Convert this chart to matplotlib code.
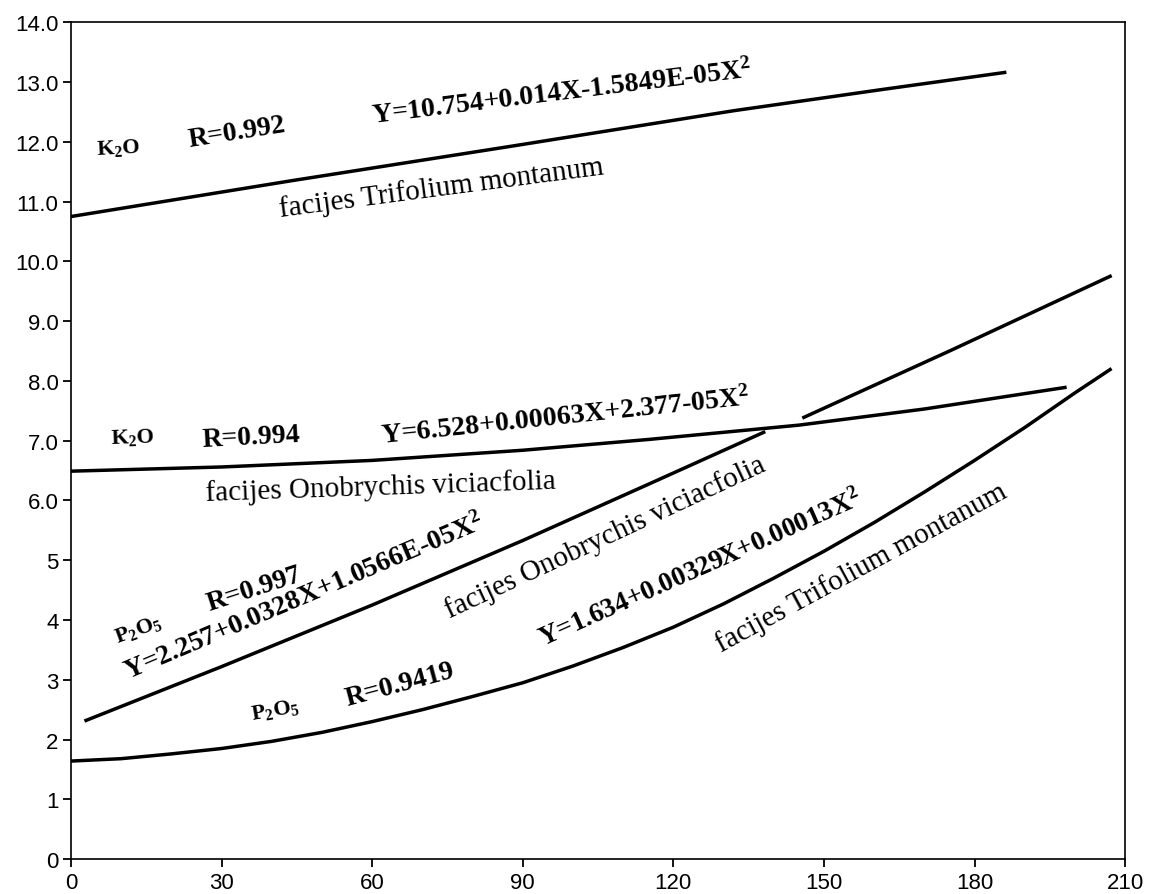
import numpy as np
import matplotlib
matplotlib.use("Agg")
import matplotlib.pyplot as plt

plt.rcParams["mathtext.default"] = "regular"

# K2O, facijes Trifolium montanum
k2o_tm_x = [0, 44, 88, 132, 162, 186]
k2o_tm_y = [10.75, 11.35, 11.93, 12.52, 12.88, 13.16]

# K2O, facijes Onobrychis viciaefolia
k2o_ov_x = [0, 30, 60, 90, 115, 145, 170, 198]
k2o_ov_y = [6.49, 6.56, 6.67, 6.84, 7.02, 7.26, 7.53, 7.89]

# P2O5, facijes Onobrychis viciaefolia (line broken where it meets the K2O curve)
p_ov_x1 = [3, 30, 60, 90, 115, 138]
p_ov_y1 = [2.32, 3.22, 4.25, 5.33, 6.27, 7.14]
p_ov_x2 = [146, 175, 207]
p_ov_y2 = [7.39, 8.5, 9.75]

# P2O5, facijes Trifolium montanum
p_tm_x = [0, 10, 20, 30, 40, 50, 60, 70, 80, 90, 100, 110, 120, 130, 140,
          150, 160, 170, 180, 190, 200, 207]
p_tm_y = [1.64, 1.68, 1.76, 1.85, 1.97, 2.12, 2.3, 2.5, 2.72, 2.95, 3.23, 3.54,
          3.88, 4.27, 4.7, 5.15, 5.63, 6.14, 6.67, 7.22, 7.8, 8.19]

xticks = [0, 30, 60, 90, 120, 150, 180, 210]
yticks = list(range(0, 15))
ytick_labels = ["0", "1", "2", "3", "4", "5"] + [f"{v:.1f}" for v in range(6, 15)]

# text labels: (x, y, text, rotation, size, bold)
labels = [
    (9.4, 11.91, "K$_2$O", 3, 16, True),
    (33.1, 12.16, "R=0.992", 9, 20, True),
    (97.8, 12.84, "Y=10.754+0.014X-1.5849E-05X$^2$", 7, 20, True),
    (73.7, 11.24, "facijes Trifolium montanum", 7.5, 21, False),
    (12.2, 7.07, "K$_2$O", 2, 16, True),
    (35.9, 7.07, "R=0.994", 3, 20, True),
    (98.4, 7.41, "Y=6.528+0.00063X+2.377-05X$^2$", 6, 20, True),
    (61.6, 6.24, "facijes Onobrychis viciacfolia", 2, 21, False),
    (13.5, 3.85, "P$_2$O$_5$", 20, 16, True),
    (36.5, 4.52, "R=0.997", 18, 20, True),
    (46.4, 4.40, "Y=2.257+0.0328X+1.0566E-05X$^2$", 23, 20, True),
    (106.4, 5.40, "facijes Onobrychis viciacfolia", 25, 21, False),
    (40.6, 2.51, "P$_2$O$_5$", 10, 16, True),
    (65.5, 2.93, "R=0.9419", 15, 20, True),
    (125.3, 4.88, "Y=1.634+0.00329X+0.00013X$^2$", 24, 19.5, True),
    (157.4, 4.88, "facijes Trifolium montanum", 28.5, 21, False),
]

fig = plt.figure(figsize=(11.54, 8.95), dpi=100)
ax = fig.add_axes([0.0615, 0.039, 0.9135, 0.935])

lw = 2.5
ax.plot(k2o_tm_x, k2o_tm_y, color="black", lw=lw)
ax.plot(k2o_ov_x, k2o_ov_y, color="black", lw=lw)
ax.plot(p_ov_x1, p_ov_y1, color="black", lw=lw)
ax.plot(p_ov_x2, p_ov_y2, color="black", lw=lw)
ax.plot(p_tm_x, p_tm_y, color="black", lw=lw)

for x, y, t, rot, size, bold in labels:
    ax.text(x, y, t, rotation=rot, ha="center", va="center",
            family="Liberation Serif", fontsize=size,
            weight="bold" if bold else "normal", rotation_mode="anchor")

ax.set_xlim(0, 210)
ax.set_ylim(0, 14)
ax.set_xticks(xticks)
ax.set_yticks(yticks)
ax.set_yticklabels(ytick_labels)
ax.tick_params(direction="out", length=6, width=1.3, labelsize=16, pad=3)
for lab in ax.get_xticklabels() + ax.get_yticklabels():
    lab.set_family("Liberation Sans")
for s in ax.spines.values():
    s.set_linewidth(1.2)

fig.savefig("out.png", dpi=100)
